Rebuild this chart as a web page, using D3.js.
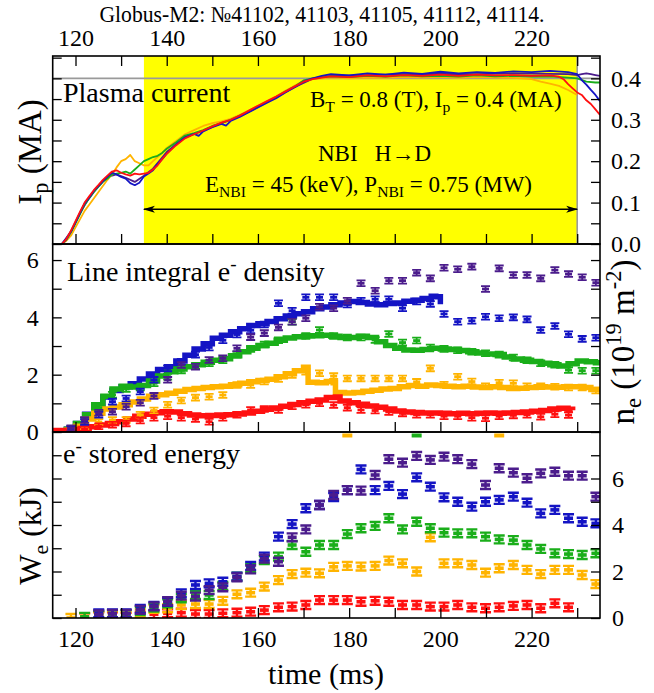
<!DOCTYPE html>
<html>
<head>
<meta charset="utf-8">
<script src="https://cdn.jsdelivr.net/npm/d3@7"></script>
<style>
  body { margin: 0; background: #fff; }
  svg text { font-family: "Liberation Serif", "Tinos", "Times New Roman", "DejaVu Serif", serif; white-space: pre; }
</style>
</head>
<body>
<svg id="chart" width="654" height="693"></svg>
<script>
// ---- data ----
var shotColors = ["#4b1c8c", "#1414c4", "#1aae1a", "#ffb400", "#ff1010"];   // purple, blue, green, orange, red
var timeTicks = [120, 140, 160, 180, 200, 220];
var ipTicks = [0.0, 0.1, 0.2, 0.3, 0.4];
var neTicks = [0, 2, 4, 6];
var weTicks = [0, 2, 4, 6];
var nbiStart = 135, nbiEnd = 230, ipFlat = 0.4, arrowLevel = 0.084;

// plasma current, MA
var ipPurple = [[117,0],[119,0.03],[121,0.075],[123,0.112],[125,0.14],[127,0.162],[129,0.168],[131,0.16],[133,0.15],[135,0.165],[137,0.182],[140,0.222],[144,0.258],[148,0.274],[152,0.292],[156,0.308],[160,0.331],[164,0.354],[168,0.379],[172,0.399],[176,0.406],[184,0.408],[192,0.41],[200,0.411],[208,0.41],[216,0.412],[224,0.411],[228,0.41],[230,0.408],[231,0.41],[232,0.412],[233,0.41],[234,0.408],[235,0.406]];
var ipBlue = [[117,0],[118,0.012],[119,0.03],[120,0.052],[121,0.075],[122,0.098],[123,0.112],[124,0.128],[125,0.14],[126,0.152],[127,0.163],[128,0.172],[129,0.168],[130,0.162],[131,0.158],[132,0.147],[133,0.142],[134,0.148],[135,0.163],[136,0.17],[137,0.178],[138,0.193],[139,0.205],[140,0.218],[142,0.24],[144,0.257],[146,0.266],[147,0.261],[148,0.272],[150,0.282],[152,0.29],[153,0.286],[154,0.297],[156,0.307],[158,0.318],[160,0.33],[162,0.341],[164,0.352],[166,0.366],[168,0.378],[170,0.392],[172,0.4],[174,0.406],[176,0.41],[180,0.407],[184,0.412],[188,0.409],[192,0.414],[196,0.411],[200,0.416],[204,0.412],[208,0.415],[212,0.413],[216,0.417],[220,0.415],[224,0.418],[228,0.415],[230,0.41],[231,0.396],[232,0.385],[233,0.372],[234,0.36],[235,0.345]];
var ipGreen = [[117,0],[118,0.01],[119,0.028],[120,0.05],[121,0.072],[122,0.095],[123,0.11],[124,0.125],[125,0.138],[126,0.15],[127,0.158],[128,0.168],[129,0.17],[130,0.172],[131,0.175],[132,0.17],[133,0.18],[134,0.19],[135,0.2],[136,0.205],[137,0.21],[138,0.213],[139,0.22],[140,0.23],[142,0.245],[144,0.262],[146,0.268],[148,0.275],[150,0.285],[152,0.292],[154,0.3],[156,0.31],[158,0.32],[160,0.332],[162,0.343],[164,0.355],[166,0.368],[168,0.38],[170,0.395],[172,0.4],[174,0.403],[176,0.405],[180,0.403],[184,0.406],[188,0.404],[192,0.407],[196,0.405],[200,0.406],[204,0.404],[208,0.407],[212,0.405],[216,0.406],[220,0.404],[224,0.405],[228,0.402],[230,0.4],[232,0.392],[234,0.39],[235,0.39]];
var ipOrange = [[117,0],[118,0.008],[119,0.02],[120,0.04],[121,0.06],[122,0.08],[123,0.095],[124,0.11],[125,0.125],[126,0.14],[127,0.155],[128,0.168],[129,0.185],[130,0.2],[131,0.205],[132,0.215],[133,0.2],[134,0.195],[135,0.19],[136,0.19],[137,0.2],[138,0.21],[139,0.22],[140,0.232],[142,0.248],[144,0.265],[146,0.275],[148,0.285],[150,0.292],[152,0.296],[154,0.302],[156,0.312],[158,0.322],[160,0.334],[162,0.345],[164,0.357],[166,0.37],[168,0.382],[170,0.394],[172,0.398],[174,0.4],[176,0.402],[180,0.4],[184,0.402],[188,0.401],[192,0.403],[196,0.402],[200,0.403],[204,0.401],[208,0.403],[212,0.402],[216,0.401],[220,0.398],[222,0.392],[224,0.387],[226,0.382],[228,0.372],[229,0.366],[230,0.36]];
var ipRed = [[117,0],[118,0.012],[119,0.032],[120,0.055],[121,0.078],[122,0.1],[123,0.115],[124,0.13],[125,0.142],[126,0.155],[127,0.165],[128,0.175],[129,0.178],[130,0.172],[131,0.168],[132,0.165],[133,0.17],[134,0.168],[135,0.17],[136,0.172],[137,0.18],[138,0.19],[139,0.205],[140,0.218],[142,0.238],[144,0.255],[146,0.265],[148,0.274],[150,0.284],[152,0.293],[154,0.3],[156,0.31],[158,0.322],[160,0.334],[162,0.345],[164,0.356],[166,0.368],[168,0.38],[170,0.392],[172,0.398],[174,0.402],[176,0.405],[180,0.403],[184,0.407],[188,0.405],[192,0.408],[196,0.406],[200,0.409],[204,0.406],[208,0.409],[212,0.407],[216,0.408],[220,0.406],[224,0.407],[226,0.404],[227,0.398],[228,0.386],[229,0.376],[230,0.366],[231,0.36],[232,0.347],[233,0.338],[234,0.325],[235,0.312]];

// line integral density (interferometer), 1e19 m^-2
var neLineBlue = [[116,0.02],[118,0.1],[120,0.3],[122,0.62],[124,0.95],[126,1.22],[128,1.45],[130,1.58],[132,1.68],[134,1.85],[136,2.02],[138,2.18],[140,2.28],[142,2.48],[144,2.68],[146,2.9],[148,3.08],[150,3.27],[152,3.38],[154,3.5],[156,3.6],[158,3.72],[160,3.78],[162,3.86],[164,3.95],[166,4.05],[168,4.13],[170,4.2],[172,4.3],[174,4.36],[176,4.44],[178,4.5],[180,4.55],[182,4.52],[184,4.47],[186,4.44],[188,4.48],[190,4.5],[192,4.56],[194,4.6],[196,4.66],[198,4.74],[199,4.72],[200,4.55],[200.6,4.55]];
var neLineGreen = [[116,0.02],[118,0.1],[120,0.3],[122,0.6],[124,0.95],[126,1.25],[128,1.5],[130,1.6],[132,1.57],[134,1.62],[136,1.78],[138,1.95],[140,2.1],[142,2.2],[144,2.28],[146,2.35],[148,2.43],[150,2.5],[152,2.56],[154,2.66],[156,2.8],[158,2.92],[160,3.02],[162,3.1],[164,3.2],[166,3.28],[168,3.32],[170,3.35],[172,3.36],[174,3.38],[176,3.34],[178,3.3],[180,3.3],[182,3.34],[184,3.3],[186,3.15],[188,3.02],[190,2.92],[192,2.86],[194,2.85],[196,2.88],[198,2.92],[200,2.9],[202,2.88],[204,2.84],[206,2.8],[208,2.76],[210,2.72],[212,2.7],[214,2.62],[216,2.55],[218,2.5],[220,2.46],[222,2.4],[224,2.35],[226,2.3],[228,2.38],[230,2.48],[232,2.45],[234,2.42],[235,2.42]];
var neLineOrange = [[116,0.02],[118,0.06],[120,0.2],[122,0.45],[124,0.65],[126,0.8],[128,0.87],[130,0.95],[132,1.05],[134,1.15],[136,1.25],[138,1.3],[140,1.35],[142,1.42],[144,1.48],[146,1.52],[148,1.55],[150,1.58],[152,1.6],[154,1.65],[156,1.7],[158,1.75],[160,1.8],[162,1.84],[164,1.93],[166,2.03],[168,2.14],[170,2.26],[171,1.74],[173,1.72],[175,1.76],[176.5,1.72],[177,1.38],[179,1.36],[181,1.38],[183,1.42],[185,1.46],[187,1.5],[189,1.52],[191,1.58],[193,1.62],[195,1.6],[197,1.64],[199,1.62],[201,1.6],[203,1.58],[205,1.6],[207,1.57],[209,1.55],[211,1.58],[213,1.55],[215,1.52],[217,1.53],[219,1.55],[221,1.58],[223,1.57],[225,1.56],[227,1.58],[229,1.58],[231,1.55],[233,1.48],[235,1.38]];
var neLineRed = [[115,0.05],[117,0.05],[119,0.08],[121,0.12],[123,0.18],[125,0.24],[127,0.3],[129,0.36],[131,0.45],[133,0.55],[135,0.62],[137,0.67],[139,0.71],[141,0.7],[143,0.64],[145,0.59],[147,0.57],[149,0.58],[151,0.59],[153,0.6],[155,0.63],[157,0.66],[159,0.72],[161,0.79],[163,0.84],[165,0.9],[167,0.96],[169,1.02],[171,1.07],[173,1.12],[175,1.2],[177,1.22],[178,1.08],[180,1.02],[182,0.97],[184,0.91],[186,0.86],[188,0.8],[190,0.73],[192,0.7],[194,0.68],[196,0.66],[198,0.66],[200,0.65],[202,0.64],[204,0.65],[206,0.64],[208,0.65],[210,0.66],[212,0.65],[214,0.66],[216,0.68],[218,0.7],[220,0.72],[222,0.75],[224,0.8],[226,0.83],[228,0.79],[229,0.76]];

// Thomson scattering sample times, ms
var tsTime = [119.0,122.0,125.1,128.1,131.1,134.2,137.2,140.2,143.2,146.3,149.3,152.3,155.4,158.4,161.4,164.5,167.5,170.5,173.5,176.6,179.6,182.6,185.7,188.7,191.7,194.8,197.8,200.8,203.8,206.9,209.9,212.9,216.0,219.0,222.0,225.1,228.1,231.1,234.1];

// density from Thomson, 1e19 m^-2
var neMarkPurple = [0.13,0.42,0.67,0.71,0.88,1.02,1.26,1.82,2.34,2.28,2.51,2.57,2.92,3.31,3.45,3.65,3.85,3.97,4.37,4.32,4.58,5.19,4.93,5.28,5.28,5.56,5.36,5.73,5.68,5.77,4.99,5.71,5.48,5.48,5.36,5.65,5.51,5.4,5.21];
var neMarkBlue = [0.1,0.35,0.6,1.06,1.17,1.41,1.82,2.22,2.45,2.7,2.95,3.2,3.4,3.55,3.75,4.49,4.23,4.7,4.7,4.7,4.45,4.58,4.63,4.63,4.32,4.55,4.47,4.12,3.85,3.88,4.02,3.97,4.0,3.93,3.56,3.7,3.41,3.25,3.29];
var neMarkGreen = [0.1,0.4,0.85,1.3,1.5,1.55,1.7,1.93,2.15,2.3,2.4,2.5,2.7,2.9,3.05,3.2,3.85,3.35,3.56,3.35,3.3,3.3,3.21,3.42,3.12,3.19,2.95,2.9,2.85,2.8,2.75,2.7,2.6,2.5,2.4,2.35,2.16,2.14,2.14];
var neMarkOrange = [0.05,0.2,0.35,0.42,0.42,0.6,0.75,0.95,1.1,1.2,1.23,1.29,1.64,1.64,1.76,1.85,1.99,2.1,2.05,1.95,1.87,1.87,1.87,1.87,1.87,1.75,2.22,1.65,1.93,1.76,1.6,1.72,1.7,1.6,1.6,1.58,1.55,1.55,1.45];
var neMarkRed = [0.05,0.1,0.2,0.25,0.3,0.4,0.5,0.55,0.5,0.45,0.36,0.5,0.6,0.77,0.8,0.77,0.9,0.95,1.0,0.94,0.85,0.77,0.75,0.7,0.65,0.6,0.6,0.55,0.55,0.5,0.48,0.55,0.58,0.6,0.53,0.62,0.59,null,null];

// electron stored energy, kJ
var wePurple = [null,null,0.15,0.18,0.18,0.35,0.5,0.72,0.96,0.92,1.2,1.32,1.75,2.09,2.55,2.42,3.47,3.81,4.86,5.29,5.5,5.48,6.15,6.83,6.68,6.97,6.8,6.94,6.83,6.62,5.72,6.44,6.25,6.01,6.22,6.29,6.12,6.12,5.22];
var weBlue = [null,null,0.2,0.2,0.2,0.39,0.52,0.7,1.06,1.42,1.49,1.56,1.78,2.24,2.64,3.5,4.04,4.72,4.86,5.2,5.5,6.39,5.5,5.68,5.33,6.05,5.65,5.19,5.0,4.79,5.0,5.08,5.22,4.96,4.5,4.65,4.29,4.14,4.07];
var weGreen = [null,0.05,0.13,0.17,0.17,0.3,0.45,0.63,0.85,0.99,0.99,1.38,1.78,2.15,2.49,2.64,3.14,2.85,3.14,3.14,3.61,3.86,3.96,4.29,3.81,4.14,3.86,3.67,3.64,3.64,3.5,3.38,3.35,3.14,2.97,2.78,2.75,2.71,2.78];
var weOrange = [0.0,0.03,0.1,0.12,0.1,0.2,0.39,0.42,0.56,0.6,0.6,0.74,1.02,1.09,1.35,1.63,1.89,1.95,1.92,2.2,2.24,2.21,2.24,2.47,2.35,2.0,3.47,2.35,2.35,2.28,1.95,2.14,2.28,2.07,1.89,2.07,2.07,1.85,1.46];
var weRed = [null,0.03,0.08,0.08,0.05,0.1,0.16,0.2,0.23,0.17,0.17,0.2,0.23,0.27,0.34,0.46,0.49,0.56,0.77,0.77,0.77,0.7,0.74,0.7,0.56,0.56,0.49,0.49,0.56,0.46,0.42,0.46,0.52,0.56,0.42,0.63,0.46,null,null];
// points that sit above the top of the W_e frame (only their lower edge shows)
var weOffTop = [[179.6, 3], [194.8, 2], [212.9, 3]];
var weOffTopValue = 7.85;
var neErr = 0.1, weErr = 0.17;

// ---- scales ----
var svg = d3.select("#chart");
var x = d3.scaleLinear().domain([115, 235]).range([52.7, 600]);
var yIp = d3.scaleLinear().domain([0, 0.454]).range([244, 56]);
var yNe = d3.scaleLinear().domain([0, 6.56]).range([432, 244]);
var yWe = d3.scaleLinear().domain([0, 8]).range([618, 432]);
var x0 = x.range()[0], x1 = x.range()[1];

var defs = svg.append("defs");
[["clipIp", yIp], ["clipNe", yNe], ["clipWe", yWe]].forEach(function(c) {
    var r = c[1].range();
    defs.append("clipPath").attr("id", c[0]).append("rect")
        .attr("x", x0).attr("y", r[1]).attr("width", x1 - x0).attr("height", r[0] - r[1]);
});
defs.append("marker").attr("id", "ahead").attr("viewBox", "0 0 12 8")
    .attr("refX", 11).attr("refY", 4).attr("markerWidth", 12).attr("markerHeight", 8)
    .attr("markerUnits", "userSpaceOnUse").attr("orient", "auto-start-reverse")
    .append("path").attr("d", "M0,0.5 L12,4 L0,7.5 L3,4 z").attr("fill", "#000");

// text with sub/superscripts: parts = [[text, 0 normal | 1 sub | 2 sup], ...]
function rich(sel, parts, size) {
    var shift = 0;
    parts.forEach(function(p) {
        var target = p[1] === 1 ? size * 0.22 : (p[1] === 2 ? -size * 0.38 : 0);
        sel.append("tspan").attr("dy", target - shift)
            .attr("font-size", p[1] ? size * 0.68 : size).text(p[0]);
        shift = target;
    });
    return sel;
}

// ---- top panel: plasma current ----
var gIp = svg.append("g");
gIp.append("rect").attr("x", x(nbiStart)).attr("y", yIp.range()[1])
    .attr("width", x(nbiEnd) - x(nbiStart)).attr("height", yIp.range()[0] - yIp.range()[1])
    .attr("fill", "#ffff00");
gIp.append("line").attr("x1", x0).attr("x2", x1).attr("y1", yIp(ipFlat)).attr("y2", yIp(ipFlat))
    .attr("stroke", "#9a9a9a").attr("stroke-width", 1.6);
gIp.append("line").attr("x1", x(nbiEnd)).attr("x2", x(nbiEnd)).attr("y1", yIp.range()[1]).attr("y2", yIp.range()[0])
    .attr("stroke", "#9a9a9a").attr("stroke-width", 1.6);

var lineIp = d3.line().x(function(d) { return x(d[0]); }).y(function(d) { return yIp(d[1]); });
var ipCurves = svg.append("g").attr("clip-path", "url(#clipIp)");
[[ipPurple, 0], [ipOrange, 3], [ipGreen, 2], [ipBlue, 1], [ipRed, 4]].forEach(function(s) {
    ipCurves.append("path").attr("d", lineIp(s[0])).attr("fill", "none")
        .attr("stroke", shotColors[s[1]]).attr("stroke-width", 1.8).attr("stroke-linejoin", "round");
});

svg.append("line").attr("x1", x(nbiStart)).attr("x2", x(nbiEnd))
    .attr("y1", yIp(arrowLevel)).attr("y2", yIp(arrowLevel))
    .attr("stroke", "#000").attr("stroke-width", 1.6)
    .attr("marker-start", "url(#ahead)").attr("marker-end", "url(#ahead)");

svg.append("text").attr("x", 63).attr("y", 102).attr("font-size", 28).text("Plasma current");
rich(svg.append("text").attr("x", 310).attr("y", 107),
    [["B", 0], ["T", 1], [" = 0.8 (T), I", 0], ["p", 1], [" = 0.4 (MA)", 0]], 23);
svg.append("text").attr("x", 318).attr("y", 161).attr("font-size", 23).text("NBI   H\u2192D");
rich(svg.append("text").attr("x", 205).attr("y", 192),
    [["E", 0], ["NBI", 1], [" = 45 (keV), P", 0], ["NBI", 1], [" = 0.75 (MW)", 0]], 23);

// ---- middle panel: density ----
var lineNe = d3.line().x(function(d) { return x(d[0]); }).y(function(d) { return yNe(d[1]); }).curve(d3.curveStepAfter);
var neG = svg.append("g").attr("clip-path", "url(#clipNe)");
[[neLineBlue, 1], [neLineGreen, 2], [neLineOrange, 3], [neLineRed, 4]].forEach(function(s) {
    neG.append("path").attr("d", lineNe(s[0])).attr("fill", "none")
        .attr("stroke", shotColors[s[1]]).attr("stroke-width", 5.5);
});

function drawMarkers(g, yScale, vals, color, err, w, thick, sw) {
    var pts = tsTime.map(function(t, i) { return { t: t, v: vals[i] }; })
        .filter(function(d) { return d.v != null; });
    var e = yScale(0) - yScale(err);
    var m = g.selectAll(null).data(pts).enter().append("g")
        .attr("transform", function(d) { return "translate(" + x(d.t) + "," + yScale(d.v) + ")"; });
    m.append("path")
        .attr("d", "M" + (-w / 2) + "," + (-e) + "H" + (w / 2) + "M0," + (-e) + "V" + e + "M" + (-w / 2) + "," + e + "H" + (w / 2))
        .attr("stroke", color).attr("stroke-width", sw).attr("fill", "none");
    m.append("rect").attr("x", -w / 2 + 1).attr("y", -thick / 2).attr("width", w - 2).attr("height", thick)
        .attr("fill", color);
}
[[neMarkGreen, 2], [neMarkOrange, 3], [neMarkRed, 4], [neMarkBlue, 1], [neMarkPurple, 0]].forEach(function(s) {
    drawMarkers(neG, yNe, s[0], shotColors[s[1]], neErr, 9, 2.8, 1.8);
});

svg.append("text").attr("x", 67).attr("y", 281).call(function(t) {
    rich(t, [["Line integral e", 0], ["-", 2], [" density", 0]], 28);
});

// ---- bottom panel: stored energy ----
var weG = svg.append("g").attr("clip-path", "url(#clipWe)");
[[weRed, 4], [weOrange, 3], [weGreen, 2], [weBlue, 1], [wePurple, 0]].forEach(function(s) {
    drawMarkers(weG, yWe, s[0], shotColors[s[1]], weErr, 11, 3.6, 2.4);
});
weG.selectAll(null).data(weOffTop).enter().append("rect")
    .attr("x", function(d) { return x(d[0]) - 5; }).attr("y", yWe(weOffTopValue) - 2)
    .attr("width", 10).attr("height", 4).attr("fill", function(d) { return shotColors[d[1]]; });

svg.append("text").attr("x", 63).attr("y", 463).call(function(t) {
    rich(t, [["e", 0], ["-", 2], [" stored energy", 0]], 28);
});

// ---- axes and frames ----
var tickStep10 = d3.range(120, 235, 10);
function xAxisAt(y, orient, labels) {
    var ax = (orient === "top" ? d3.axisTop(x) : d3.axisBottom(x))
        .tickValues(tickStep10).tickSizeInner(-10).tickSizeOuter(0)
        .tickPadding(orient === "top" ? 10 : 12)
        .tickFormat(function(d) { return labels && timeTicks.indexOf(d) >= 0 ? d : ""; });
    var g = svg.append("g").attr("transform", "translate(0," + y + ")").call(ax);
    g.attr("font-family", null);
    g.select(".domain").remove();
    g.selectAll(".tick line").attr("stroke-width", 1.3);
    g.selectAll("text").attr("font-size", 24).attr("fill", "#000");
    return g;
}
xAxisAt(56, "top", true);
xAxisAt(244, "bottom", false);
xAxisAt(432, "bottom", false);
xAxisAt(618, "bottom", true);

function yAxis(scale, side, values, labelSet, fmt, pad) {
    var ax = (side === "left" ? d3.axisLeft(scale) : d3.axisRight(scale))
        .tickValues(values).tickSizeInner(-9).tickSizeOuter(0).tickPadding(pad)
        .tickFormat(function(d) {
            return labelSet && labelSet.some(function(v) { return Math.abs(v - d) < 1e-9; }) ? fmt(d) : "";
        });
    var g = svg.append("g").attr("transform", "translate(" + (side === "left" ? x0 : x1) + ",0)").call(ax);
    g.attr("font-family", null);
    g.select(".domain").remove();
    g.selectAll(".tick line").attr("stroke-width", 1.3);
    g.selectAll("text").attr("font-size", 24).attr("fill", "#000");
}
var ipMinor = d3.range(0, 0.451, 0.05);
yAxis(yIp, "left", ipMinor, null, String, 8);
yAxis(yIp, "right", ipMinor, ipTicks, d3.format(".1f"), 11);
yAxis(yNe, "left", d3.range(0, 7, 1), neTicks, String, 14);
yAxis(yNe, "right", d3.range(0, 7, 1), null, String, 8);
yAxis(yWe, "left", d3.range(0, 8, 1), null, String, 8);
yAxis(yWe, "right", d3.range(0, 8, 1), weTicks, String, 12);

[yIp, yNe, yWe].forEach(function(s) {
    var r = s.range();
    svg.append("rect").attr("x", x0).attr("y", r[1]).attr("width", x1 - x0).attr("height", r[0] - r[1])
        .attr("fill", "none").attr("stroke", "#000").attr("stroke-width", 1.6);
});

// ---- titles ----
svg.append("text").attr("x", 322).attr("y", 22).attr("text-anchor", "middle").attr("font-size", 23)
    .attr("textLength", 445).attr("lengthAdjust", "spacingAndGlyphs")
    .text("Globus-M2: \u211641102, 41103, 41105, 41112, 41114.");
svg.append("text").attr("x", 326).attr("y", 684).attr("text-anchor", "middle").attr("font-size", 30).text("time (ms)");

rich(svg.append("text").attr("text-anchor", "middle").attr("transform", "translate(41,152) rotate(-90)"),
    [["I", 0], ["p", 1], [" (MA)", 0]], 33);
rich(svg.append("text").attr("text-anchor", "middle").attr("transform", "translate(41,536) rotate(-90)"),
    [["W", 0], ["e", 1], [" (kJ)", 0]], 32);
rich(svg.append("text").attr("text-anchor", "middle").attr("transform", "translate(634,342) rotate(-90)"),
    [["n", 0], ["e", 1], [" (10", 0], ["19", 2], [" m", 0], ["-2", 2], [")", 0]], 33);
</script>
</body>
</html>
